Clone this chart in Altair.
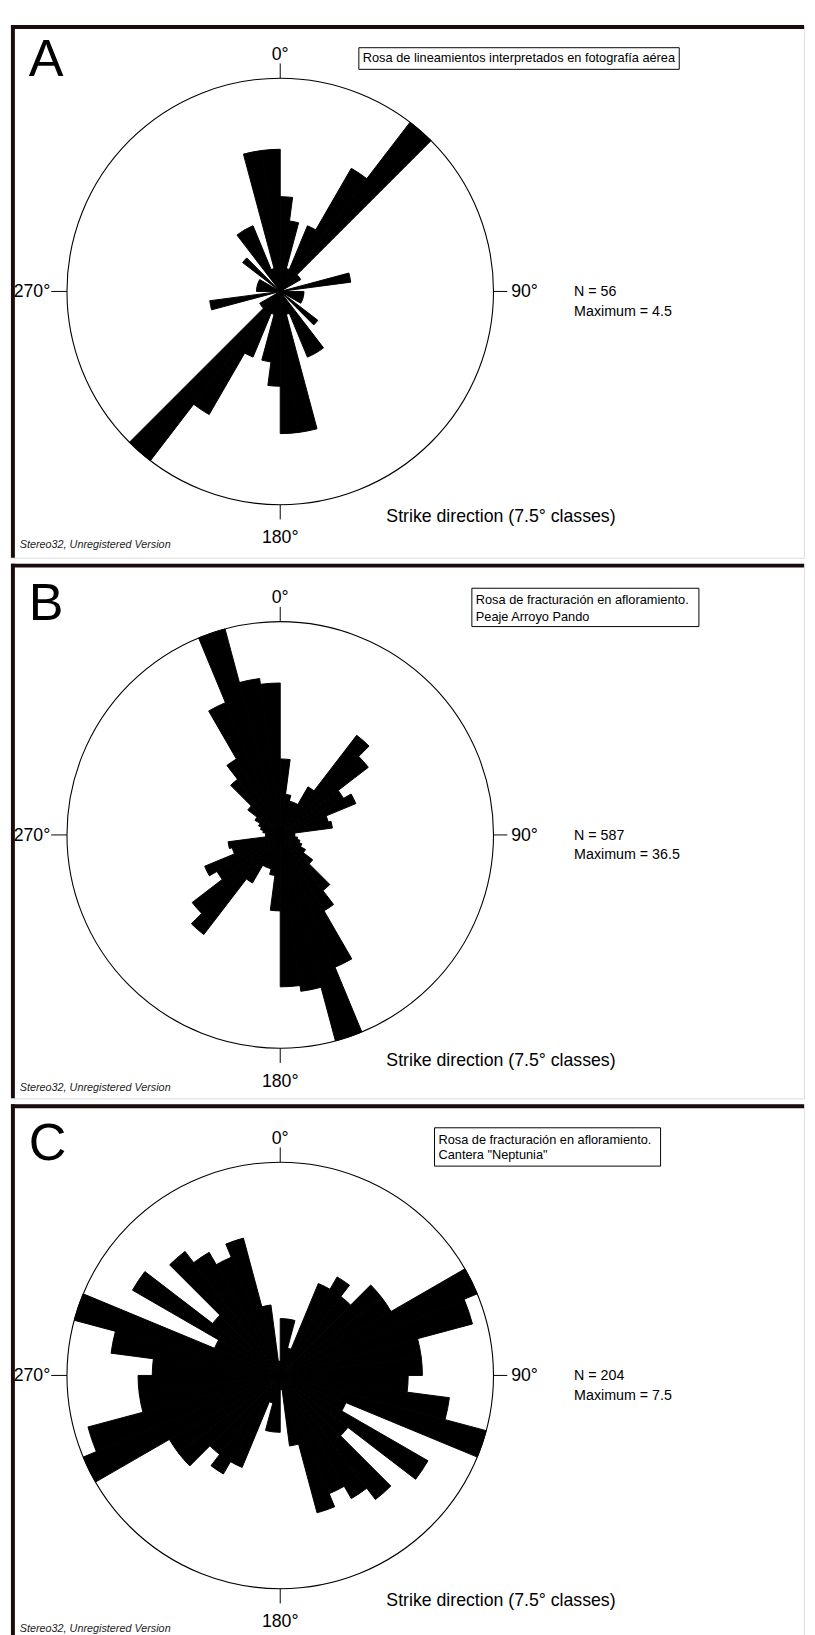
import math
import altair as alt
import pandas as pd

# ---------------- data ----------------
BIN = 7.5  # strike classes (degrees)
panel_letters = ["A", "B", "C"]
title_lines = [
    ["Rosa de lineamientos interpretados en fotografía aérea"],
    ["Rosa de fracturación en afloramiento.", "Peaje Arroyo Pando"],
    ["Rosa de fracturación en afloramiento.", 'Cantera "Neptunia"'],
]
n_values = [56, 587, 204]
max_values = [4.5, 36.5, 7.5]
direction_labels = ["0°", "90°", "180°", "270°"]
axis_caption = "Strike direction (7.5° classes)"
watermark = "Stereo32, Unregistered Version"

# class frequencies for strikes 0-180 (each class mirrored at +180)
rose_a = [2.0, 1.5, 0.5, 1.5, 3.0, 4.5, 0.5, 0.5, 0.0, 0.0, 1.5, 0.0,
          0.5, 0.5, 0.5, 0.5, 0.0, 1.0, 0.0, 1.5, 1.5, 0.5, 3.0, 3.0]
rose_b = [13.0, 7.0, 6.0, 6.0, 9.5, 21.5, 19.0, 12.5, 14.0, 8.5, 9.0, 2.5,
          2.5, 3.0, 3.5, 4.0, 5.0, 7.0, 12.0, 15.0, 24.5, 36.5, 27.0, 26.0]
rose_c = [2.0, 2.0, 1.0, 3.5, 4.0, 3.5, 4.5, 4.5, 7.5, 7.0, 5.0, 5.0,
          4.5, 6.0, 7.5, 2.5, 6.0, 3.0, 5.5, 5.0, 4.5, 5.0, 2.5, 0.5]
roses = [rose_a, rose_b, rose_c]

# ---------------- layout ----------------
W = 807
heights = [542, 544, 541]
CX = 274
cys = [271, 276, 276]
R = 217
boxes = [  # x0, x1, dy0, dy1 (relative to circle centre), text dys
    (354, 680, -248, -226, [-237]),
    (469, 700, -251, -212, [-239, -222]),
    (431, 661, -252, -213, [-239, -224]),
]
FONT = "Liberation Sans, Arial, sans-serif"
BORDER = "#1a0c0c"

one = pd.DataFrame({"k": [0]})


def txt(text, x, y, size, align="left", baseline="middle", style="normal", color="black"):
    return alt.Chart(one).mark_text(
        text=text, align=align, baseline=baseline, fontSize=size, font=FONT,
        fontStyle=style, color=color,
    ).encode(x=alt.value(x), y=alt.value(y))


def rule(x, y, x2, y2, width=1.0, color="black"):
    return alt.Chart(one).mark_rule(color=color, strokeWidth=width, strokeCap="butt").encode(
        x=alt.value(x), y=alt.value(y), x2=alt.value(x2), y2=alt.value(y2))


def panel(i):
    vals = roses[i]
    cy = cys[i]
    H = heights[i]
    n = len(vals)
    df = pd.DataFrame({
        "start": [k * BIN for k in range(2 * n)],
        "end": [(k + 1) * BIN for k in range(2 * n)],
        "value": [vals[k % n] for k in range(2 * n)],
    })
    df = df[df["value"] > 0]
    theta_scale = alt.Scale(domain=[0, 360], range=[0, 2 * math.pi])

    circle = alt.Chart(one).mark_arc(
        filled=False, stroke="black", strokeWidth=1.1,
        theta=0, theta2=2 * math.pi, radius=R,
    ).encode(x=alt.value(CX), y=alt.value(cy))

    petals = alt.Chart(df).mark_arc(color="black", stroke="black", strokeWidth=1.0,
                                    strokeJoin="bevel").encode(
        theta=alt.Theta("start:Q", scale=theta_scale, stack=False),
        theta2="end:Q",
        radius=alt.Radius("value:Q", scale=alt.Scale(type="linear", zero=True,
                                                     domain=[0, max_values[i]], range=[0, R])),
        x=alt.value(CX), y=alt.value(cy),
    )

    layers = [circle, petals]
    # direction ticks
    layers += [
        rule(CX, cy - R - 15, CX, cy - R),
        rule(CX, cy + R, CX, cy + R + 15),
        rule(CX - R - 16, cy, CX - R, cy),
        rule(CX + R, cy, CX + R + 14, cy),
    ]
    layers += [
        txt(direction_labels[0], CX, cy - 236, 18, align="center", baseline="alphabetic"),
        txt(direction_labels[2], CX, cy + 256, 18, align="center", baseline="alphabetic"),
        txt(direction_labels[3], CX - 234, cy + 1, 18, align="right"),
        txt(direction_labels[1], CX + 235, cy + 1, 18, align="left"),
        txt(f"N = {n_values[i]}", CX + 299, cy + 1, 14.5),
        txt(f"Maximum = {max_values[i]}", CX + 299, cy + 21, 14.5),
        txt(axis_caption, CX + 108, cy + 230, 18),
        txt(watermark, 9, cy + 258, 11, style="italic", color="#222222"),
        txt(panel_letters[i], 18, cy - 219, 53, baseline="alphabetic"),
    ]
    x0, x1, d0, d1, tys = boxes[i]
    box = alt.Chart(one).mark_rect(fill="white", stroke="black", strokeWidth=1).encode(
        x=alt.value(x0), x2=alt.value(x1), y=alt.value(cy + d0), y2=alt.value(cy + d1))
    layers.append(box)
    for line, dy in zip(title_lines[i], tys):
        layers.append(txt(line, x0 + 4, cy + dy, 13))
    # frame
    layers += [
        rule(0, 2, W, 2, width=4, color=BORDER),
        rule(2, 0, 2, H, width=4, color=BORDER),
    ]
    return alt.layer(*layers).properties(width=W, height=H)


chart = alt.vconcat(panel(0), panel(1), panel(2), spacing=0, padding=0).configure_view(
    stroke=None
).configure(background="white")

chart.save("out.html", embed_options={"renderer": "svg", "actions": False})
